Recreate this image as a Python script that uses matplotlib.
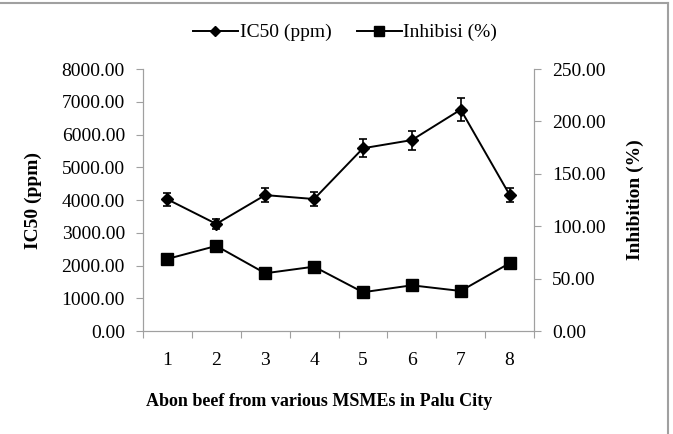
import matplotlib
matplotlib.use("Agg")
import matplotlib.pyplot as plt
from matplotlib.lines import Line2D

plt.rcParams['font.family'] = ['Liberation Serif', 'DejaVu Serif']

samples = [1, 2, 3, 4, 5, 6, 7, 8]
ic50 = [4020, 3270, 4150, 4030, 5580, 5830, 6760, 4160]
ic50_err = [200, 150, 210, 210, 275, 290, 340, 210]
inhibisi = [68.8, 81.2, 55.1, 61.4, 37.0, 43.6, 38.2, 64.7]

fig = plt.figure(figsize=(6.73, 4.34), dpi=100)
ax = fig.add_axes([0.2125, 0.2373, 0.581, 0.6037])
ax2 = ax.twinx()

grey = '#a0a0a0'

ax.errorbar(samples, ic50, yerr=ic50_err, color='black', marker='D',
            markersize=6, linewidth=1.4, capsize=3, elinewidth=1.2,
            capthick=1.2)
ax2.plot(samples, inhibisi, color='black', marker='s', markersize=8,
         linewidth=1.4)

ax.set_xlim(0.5, 8.5)
ax.set_ylim(0, 8000)
ax2.set_ylim(0, 250)
ax.set_yticks(range(0, 8001, 1000))
ax2.set_yticks(range(0, 251, 50))
ax.yaxis.set_major_formatter(lambda v, p: f"{v:.2f}")
ax2.yaxis.set_major_formatter(lambda v, p: f"{v:.2f}")

# category ticks between samples, labels centered
ax.set_xticks([x + 0.5 for x in range(0, 9)])
ax.set_xticklabels([])
ax.set_xticks(samples, minor=True)
ax.set_xticklabels([str(s) for s in samples], minor=True)
ax.tick_params(axis='x', which='minor', length=0, pad=15, labelsize=14)
ax.tick_params(axis='x', which='major', length=5, color=grey, direction='out')

for a in (ax, ax2):
    a.spines['top'].set_visible(False)
    for s in ('left', 'right', 'bottom'):
        a.spines[s].set_color(grey)
    a.tick_params(axis='y', length=5, color=grey, labelsize=14, pad=8)

ax.set_xlabel('Abon beef from various MSMEs in Palu City', fontsize=13,
              fontweight='bold')
ax.xaxis.set_label_coords(0.451, -0.238)
ax.set_ylabel('IC50 (ppm)', fontsize=14, fontweight='bold')
ax.yaxis.set_label_coords(-0.258, 0.5)
ax2.set_ylabel('Inhibition (%)', fontsize=14, fontweight='bold')
ax2.yaxis.set_label_coords(1.238, 0.5)

h1 = Line2D([], [], color='black', marker='D', markersize=5, linewidth=1.4)
h2 = Line2D([], [], color='black', marker='s', markersize=7, linewidth=1.4)
fig.legend([h1, h2], ['IC50 (ppm)', 'Inhibisi (%)'], loc='center',
           bbox_to_anchor=(0.513, 0.925), ncol=2, frameon=False, fontsize=14,
           handlelength=2.3, columnspacing=1.3, handletextpad=0.1)

# chart-area border (only top and right edges visible)
fig.add_artist(Line2D([0, 668 / 673], [1 - 2.5 / 434, 1 - 2.5 / 434],
                      transform=fig.transFigure, color=grey, linewidth=1.5))
fig.add_artist(Line2D([668 / 673, 668 / 673], [0, 1 - 2.5 / 434],
                      transform=fig.transFigure, color=grey, linewidth=1.5))

fig.savefig('out.png', dpi=100)
